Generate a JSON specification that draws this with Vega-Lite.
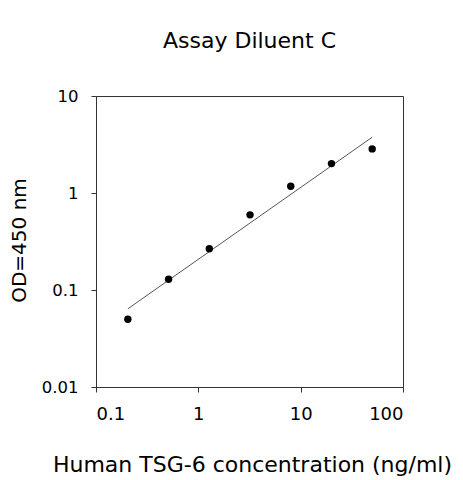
{
  "$schema": "https://vega.github.io/schema/vega-lite/v6.json",
  "autosize": "none",
  "width": 307,
  "height": 291,
  "padding": {"left": 96, "top": 96, "right": 60, "bottom": 93},
  "background": "white",
  "title": {
    "text": "Assay Diluent C",
    "font": "DejaVu Sans",
    "fontSize": 22,
    "fontWeight": "normal",
    "color": "#000",
    "anchor": "middle",
    "baseline": "alphabetic",
    "offset": 18
  },
  "config": {
    "view": {"stroke": "#333", "strokeWidth": 1},
    "axis": {
      "grid": false,
      "domainColor": "#333",
      "tickColor": "#333",
      "tickSize": 5,
      "labelFont": "DejaVu Sans",
      "labelColor": "#000",
      "titleFont": "DejaVu Sans",
      "titleFontWeight": "normal",
      "titleColor": "#000",
      "labelPadding": 13,
      "format": "~g"
    }
  },
  "datasets": {
    "points": [
      {"conc": 0.2048, "od": 0.050},
      {"conc": 0.512, "od": 0.129},
      {"conc": 1.28, "od": 0.266},
      {"conc": 3.2, "od": 0.595},
      {"conc": 8.0, "od": 1.175},
      {"conc": 20.0, "od": 2.01},
      {"conc": 50.0, "od": 2.85}
    ],
    "fit": [
      {"conc": 0.2048, "od": 0.064},
      {"conc": 50.0, "od": 3.76}
    ]
  },
  "layer": [
    {
      "data": {"name": "fit"},
      "mark": {"type": "line", "color": "#555", "strokeWidth": 1},
      "encoding": {
        "x": {"field": "conc", "type": "quantitative", "scale": {"type": "log", "domain": [0.1, 100], "nice": false}},
        "y": {"field": "od", "type": "quantitative", "scale": {"type": "log", "domain": [0.01, 10], "nice": false}}
      }
    },
    {
      "data": {"name": "points"},
      "mark": {"type": "point", "filled": true, "color": "#000", "opacity": 1, "size": 55},
      "encoding": {
        "x": {
          "field": "conc", "type": "quantitative",
          "scale": {"type": "log", "domain": [0.1, 100], "nice": false},
          "axis": {
            "values": [0.1, 1, 10, 100],
            "title": "Human TSG-6 concentration (ng/ml)",
            "labelFontSize": 18,
            "titleFontSize": 22,
            "titleBaseline": "alphabetic",
            "titleAnchor": "middle",
            "titleX": 156,
            "titleY": 84
          }
        },
        "y": {
          "field": "od", "type": "quantitative",
          "scale": {"type": "log", "domain": [0.01, 10], "nice": false},
          "axis": {
            "values": [0.01, 0.1, 1, 10],
            "title": "OD=450 nm",
            "labelFontSize": 16.5,
            "titleFontSize": 20,
            "titleBaseline": "alphabetic",
            "titleAngle": -90,
            "titleAlign": "center",
            "titleX": -71,
            "titleY": 144
          }
        }
      }
    }
  ]
}
